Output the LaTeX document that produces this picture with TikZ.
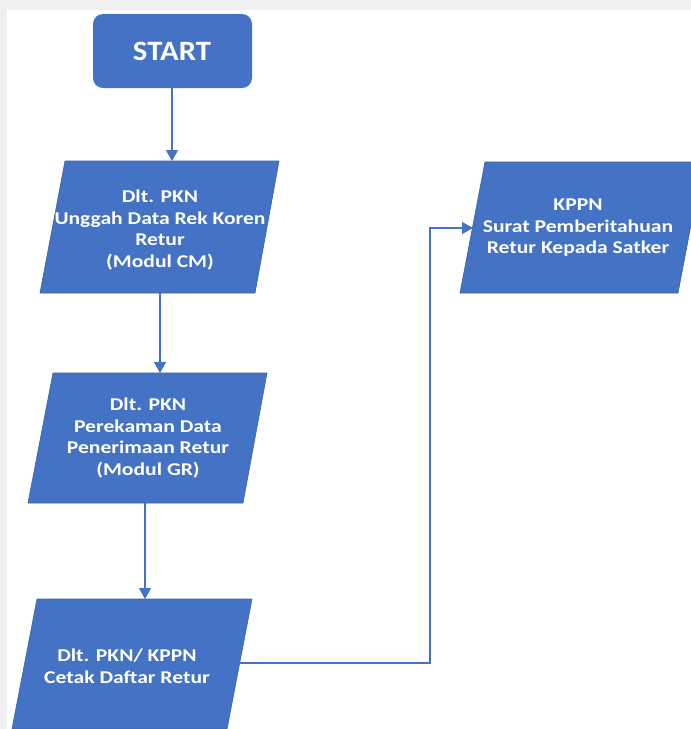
\documentclass[tikz,border=0pt]{standalone}
\usepackage{fontspec}
\setmainfont{Carlito}[FakeStretch=1.2]
\newfontfamily\startfont{Carlito}[FakeStretch=1.1]
\usetikzlibrary{arrows.meta}
\definecolor{boxblue}{HTML}{4472C4}
\definecolor{framegray}{HTML}{EFEFEF}
\begin{document}
\begin{tikzpicture}[x=1pt,y=-1pt,
  shapefill/.style={fill=boxblue,draw=boxblue!85!black,line width=0.6pt},
  boxtext/.style={text=white,align=center,inner sep=0pt,font=\bfseries\fontsize{18}{21.5}\selectfont},
  flow/.style={draw=boxblue,line width=1.4pt,-{Triangle[length=11pt,width=12pt]}}]
\useasboundingbox (0,0) rectangle (691,729);
\clip (0,0) rectangle (691,729);
\fill[framegray] (0,0) rectangle (691,729);
\fill[white] (7,10) rectangle (691,729);
% START
\fill[boxblue,rounded corners=10pt] (93,14) rectangle (252,88);
\node[text=white,inner sep=0pt,font=\startfont\bfseries\fontsize{28}{34}\selectfont] (start) at (172,51) {START};
\coordinate (startb) at (172,88);
% P1
\path[shapefill] (65,161) -- (279,161) -- (255,293) -- (40,293) -- cycle;
\node[boxtext] (p1) at (160,230) {Dlt. PKN\\Unggah Data Rek Koren\\Retur\\(Modul CM)};
\coordinate (p1t) at (172,161);
\coordinate (p1b) at (160,293);
% P2
\path[shapefill] (53,373) -- (267,373) -- (243,503) -- (28,503) -- cycle;
\node[boxtext] (p2) at (148,438) {Dlt. PKN\\Perekaman Data\\Penerimaan Retur\\(Modul GR)};
\coordinate (p2t) at (160,373);
\coordinate (p2b) at (145,503);
% P3
\path[shapefill] (37,599) -- (252,599) -- (227,729) -- (12,729) -- cycle;
\node[boxtext] (p3) at (127,666) {Dlt. PKN/ KPPN\\Cetak Daftar Retur};
\coordinate (p3t) at (145,599);
\coordinate (p3r) at (240,663);
% P4
\path[shapefill] (485,162) -- (703,162) -- (678,293) -- (460,293) -- cycle;
\node[boxtext] (p4) at (578,228) {KPPN\\Surat Pemberitahuan\\Retur Kepada Satker};
\coordinate (p4l) at (473,228);
% connectors
\draw[flow] (startb) -- (p1t);
\draw[flow] (p1b) -- (p2t);
\draw[flow] (p2b) -- (p3t);
\draw[flow] (p3r) -- (430,663) -- (430,228) -- (p4l);
\end{tikzpicture}
\end{document}
